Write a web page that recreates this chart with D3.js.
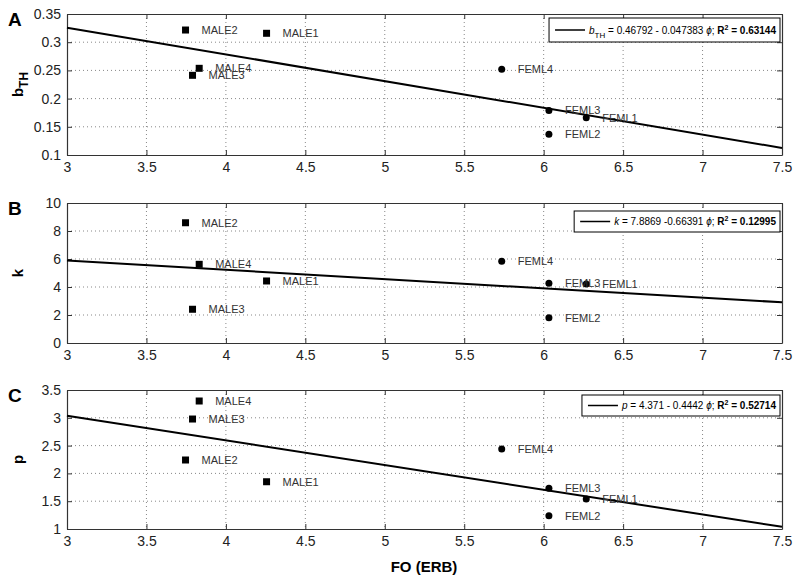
<!DOCTYPE html>
<html>
<head>
<meta charset="utf-8">
<script src="https://cdn.jsdelivr.net/npm/d3@7"></script>
<style>
  body { margin: 0; background: #fff; }
  text { font-family: "Liberation Sans", Arial, sans-serif; }
</style>
</head>
<body>
<svg id="chart" width="800" height="580"></svg>
<script>
// data
const names = ["MALE1", "MALE2", "MALE3", "MALE4", "FEML1", "FEML2", "FEML3", "FEML4"];
const fo = [4.256, 3.746, 3.79, 3.832, 6.268, 6.033, 6.033, 5.736];
const bTH = [0.3158, 0.3216, 0.2413, 0.2537, 0.166, 0.1367, 0.179, 0.252];
const kVals = [4.43, 8.59, 2.41, 5.62, 4.21, 1.81, 4.26, 5.84];
const pVals = [1.85, 2.241, 2.978, 3.302, 1.54, 1.24, 1.734, 2.44];
const xTicks = [3, 3.5, 4, 4.5, 5, 5.5, 6, 6.5, 7, 7.5];
const bTicks = [0.1, 0.15, 0.2, 0.25, 0.3, 0.35];
const kTicks = [0, 2, 4, 6, 8, 10];
const pTicks = [1, 1.5, 2, 2.5, 3, 3.5];
// fit coefficients [intercept, slope, R2]
const bFit = [0.46792, -0.047383, 0.63144];
const kFit = [7.8869, -0.66391, 0.12995];
const pFit = [4.371, -0.4442, 0.52714];

const svg = d3.select("#chart");
const left = 67, right = 782;
const x = d3.scaleLinear().domain([3, 7.5]).range([left, right]);

const panels = [
  { letter: "A", vals: bTH, ticks: bTicks, fit: bFit, top: 14, bottom: 155,
    sym: "b", sub: "TH", intSep: " - ", legTop: 4, legH: 24 },
  { letter: "B", vals: kVals, ticks: kTicks, fit: kFit, top: 203, bottom: 343,
    sym: "k", sub: null, intSep: " -", legTop: 8, legH: 21 },
  { letter: "C", vals: pVals, ticks: pTicks, fit: pFit, top: 390, bottom: 529,
    sym: "p", sub: null, intSep: " - ", legTop: 5, legH: 21 }
];

panels.forEach(function(pn){
  const y = d3.scaleLinear().domain([pn.ticks[0], pn.ticks[pn.ticks.length - 1]]).range([pn.bottom, pn.top]);
  const g = svg.append("g");

  // dotted grid
  g.selectAll(".gx").data(xTicks.slice(1, -1)).enter().append("line")
    .attr("x1", d => x(d)).attr("x2", d => x(d))
    .attr("y1", pn.top).attr("y2", pn.bottom)
    .attr("stroke", "#888").attr("stroke-width", 1).attr("stroke-dasharray", "1,3");
  g.selectAll(".gy").data(pn.ticks.slice(1, -1)).enter().append("line")
    .attr("x1", left).attr("x2", right)
    .attr("y1", d => y(d)).attr("y2", d => y(d))
    .attr("stroke", "#888").attr("stroke-width", 1).attr("stroke-dasharray", "1,3");

  // axes with inner ticks on all four sides
  g.append("g").attr("transform", `translate(0,${pn.bottom})`)
    .call(d3.axisBottom(x).tickValues(xTicks).tickSizeInner(-5).tickSizeOuter(0).tickPadding(7).tickFormat(d3.format("")));
  g.append("g").attr("transform", `translate(0,${pn.top})`)
    .call(d3.axisTop(x).tickValues(xTicks).tickSizeInner(-5).tickSizeOuter(0).tickFormat(""));
  g.append("g").attr("transform", `translate(${left},0)`)
    .call(d3.axisLeft(y).tickValues(pn.ticks).tickSizeInner(-5).tickSizeOuter(0).tickPadding(6).tickFormat(d3.format("")));
  g.append("g").attr("transform", `translate(${right},0)`)
    .call(d3.axisRight(y).tickValues(pn.ticks).tickSizeInner(-5).tickSizeOuter(0).tickFormat(""));
  g.selectAll(".domain").attr("stroke", "#333").attr("stroke-width", 1.2);
  g.selectAll(".tick line").attr("stroke", "#333");
  g.selectAll(".tick text").attr("font-size", 14).attr("fill", "#222")
    .style("font-family", "'Liberation Sans', Arial, sans-serif");

  // fit line
  g.append("line")
    .attr("x1", x(3)).attr("y1", y(pn.fit[0] + pn.fit[1] * 3))
    .attr("x2", x(7.5)).attr("y2", y(pn.fit[0] + pn.fit[1] * 7.5))
    .attr("stroke", "#000").attr("stroke-width", 2);

  // markers
  names.forEach(function(nm, i){
    const cx = x(fo[i]), cy = y(pn.vals[i]);
    if (nm.startsWith("MALE")) {
      g.append("rect").attr("x", cx - 3.5).attr("y", cy - 3.5).attr("width", 7).attr("height", 7).attr("fill", "#000");
    } else {
      g.append("circle").attr("cx", cx).attr("cy", cy).attr("r", 3.5).attr("fill", "#000");
    }
    g.append("text").attr("x", cx + 16).attr("y", cy).attr("dy", "0.35em")
      .attr("font-size", 11).attr("fill", "#333").text(nm);
  });

  // panel letter
  svg.append("text").attr("x", 8).attr("y", pn.top + 12)
    .attr("font-size", 19).attr("font-weight", "bold").text(pn.letter);

  // y axis label
  const yl = svg.append("text")
    .attr("transform", `translate(23,${(pn.top + pn.bottom) / 2}) rotate(-90)`)
    .attr("text-anchor", "middle").attr("font-size", 15).attr("font-weight", "bold");
  yl.append("tspan").text(pn.sym);
  if (pn.sub) yl.append("tspan").attr("dy", 5).attr("font-size", 12).text(pn.sub);

  // legend
  const ly = pn.top + pn.legTop;
  const my = ly + pn.legH / 2;
  const box = g.append("rect").attr("y", ly).attr("height", pn.legH)
    .attr("fill", "#fff").attr("stroke", "#000").attr("stroke-width", 1);
  const seg = g.append("line").attr("y1", my).attr("y2", my)
    .attr("stroke", "#000").attr("stroke-width", 1.5);
  const lt = g.append("text").attr("y", my).attr("dy", "0.35em").attr("font-size", 10);
  lt.append("tspan").attr("font-style", "italic").text(pn.sym);
  if (pn.sub) lt.append("tspan").attr("dy", 4).attr("font-size", 8).text(pn.sub);
  lt.append("tspan").attr("dy", pn.sub ? -4 : 0)
    .text(" = " + pn.fit[0] + pn.intSep + Math.abs(pn.fit[1]) + " ");
  lt.append("tspan").attr("font-style", "italic").text("\u03d5");
  lt.append("tspan").text("; ");
  lt.append("tspan").attr("font-weight", "bold").text("R");
  lt.append("tspan").attr("font-weight", "bold").attr("dy", -4).attr("font-size", 7).text("2");
  lt.append("tspan").attr("font-weight", "bold").attr("dy", 4).text(" = " + pn.fit[2]);
  const tw = lt.node().getComputedTextLength();
  const bw = tw + 44;
  const bx = right - 2 - bw;
  box.attr("x", bx).attr("width", bw);
  seg.attr("x1", bx + 6).attr("x2", bx + 36);
  lt.attr("x", bx + 40);
});

svg.append("text").attr("x", 424).attr("y", 572).attr("text-anchor", "middle")
  .attr("font-size", 15).attr("font-weight", "bold").text("FO (ERB)");
</script>
</body>
</html>
